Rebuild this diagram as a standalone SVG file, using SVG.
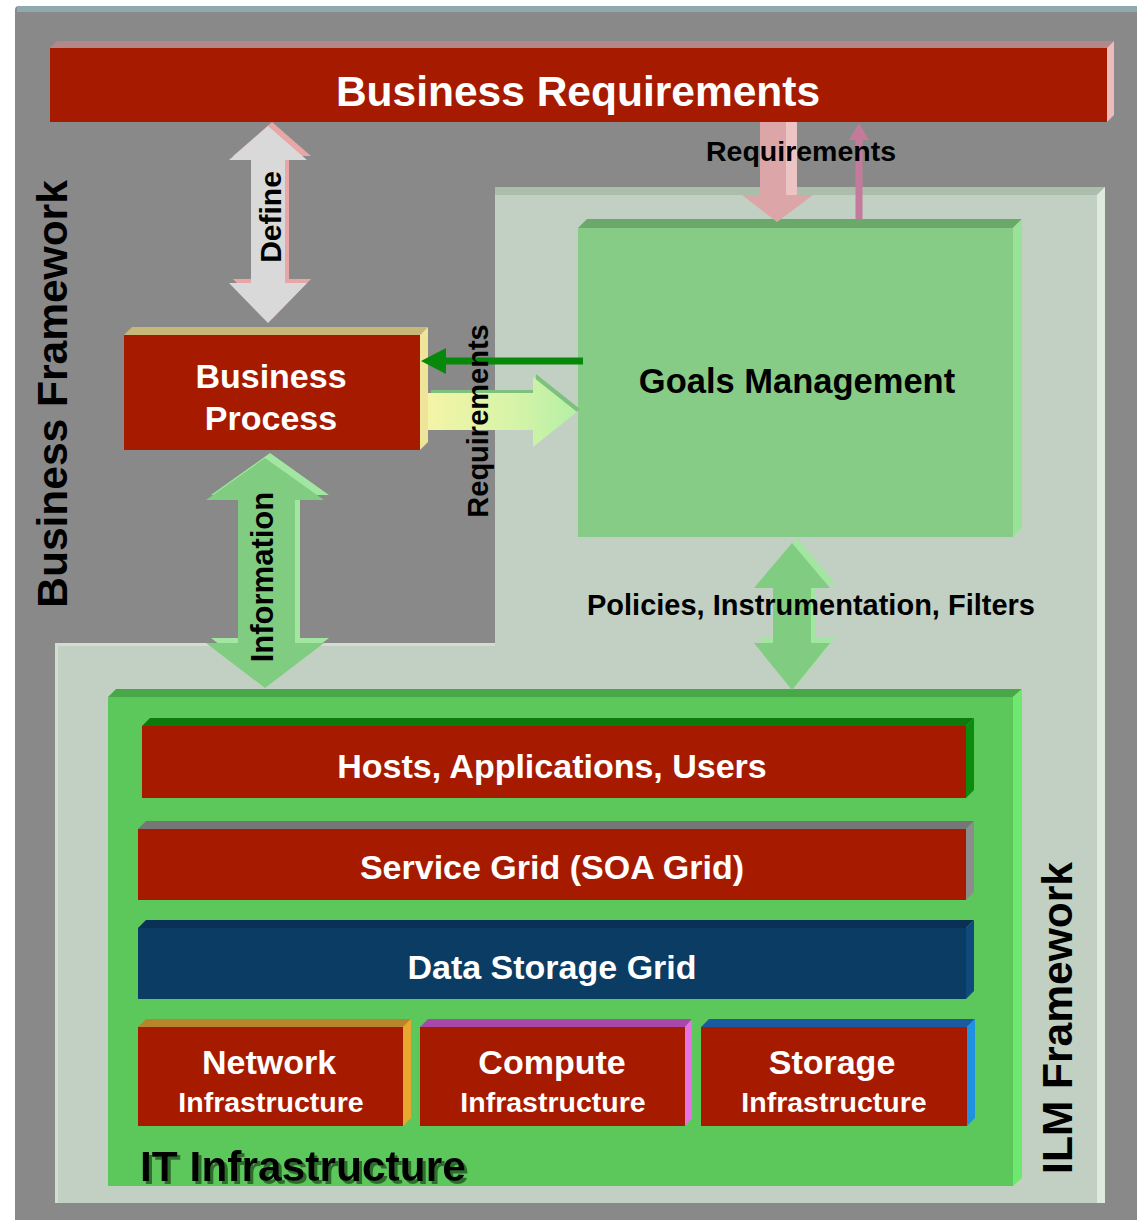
<svg xmlns="http://www.w3.org/2000/svg" width="1137" height="1220" viewBox="0 0 1137 1220">
  <defs>
    <style>
      text { font-family: "Liberation Sans", Arial, sans-serif; font-weight: bold; }
      .wt { fill: #ffffff; text-anchor: middle; }
      .bk { fill: #000000; text-anchor: middle; }
      .red { fill: #a61a00; }
    </style>
    <linearGradient id="reqGrad" x1="0" y1="0" x2="1" y2="0">
      <stop offset="0" stop-color="#f4f4a6"/>
      <stop offset="0.55" stop-color="#d8f4a8"/>
      <stop offset="1" stop-color="#b4f0a6"/>
    </linearGradient>
    <filter id="textShadow" x="-5%" y="-20%" width="110%" height="150%">
      <feDropShadow dx="3" dy="3" stdDeviation="0.6" flood-color="#2f6d2f" flood-opacity="1"/>
    </filter>
  </defs>

  <!-- backdrop -->
  <rect x="0" y="0" width="1137" height="1220" fill="#ffffff"/>
  <rect x="15" y="6" width="1130" height="1220" rx="4" fill="#898989"/>
  <rect x="17" y="6" width="1120" height="6" fill="#8eaaaf"/>

  <!-- ILM framework panel (L-shaped) -->
  <g id="ilm-panel">
    <polygon points="495,187 1105,187 1105,1203 55,1203 55,643 495,643" fill="#c1d0c3"/>
    <polygon points="495,187 1105,187 1097,195 495,195" fill="#abbeab"/>
    <polygon points="1097,195 1105,187 1105,1203 1097,1203" fill="#dfeadf"/>
    <polygon points="55,643 495,643 495,646 58,646 58,1203 55,1203" fill="#d2ddd2"/>
  </g>

  <!-- Business Requirements bar -->
  <g id="business-requirements">
    <polygon points="50,48 57,41 1114,41 1107,48" fill="#b48888"/>
    <polygon points="1107,48 1114,41 1114,115 1107,122" fill="#ecbcbc"/>
    <rect x="50" y="48" width="1057" height="74" class="red"/>
    <text x="578" y="106" class="wt" font-size="42.5">Business Requirements</text>
  </g>

  <!-- Goals Management -->
  <g id="goals-management">
    <polygon points="578,228 587,219 1022,219 1013,228" fill="#6aa96a"/>
    <polygon points="1013,228 1022,219 1022,528 1013,537" fill="#99e399"/>
    <rect x="578" y="228" width="435" height="309" fill="#86cb86"/>
    <text x="797" y="393" class="bk" font-size="34.5">Goals Management</text>
  </g>

  <!-- Business Process -->
  <g id="business-process">
    <polygon points="124,335 132,327 428,327 420,335" fill="#c8b878"/>
    <polygon points="420,335 428,327 428,442 420,450" fill="#efe59a"/>
    <rect x="124" y="335" width="296" height="115" class="red"/>
    <text x="271" y="388" class="wt" font-size="34">Business</text>
    <text x="271" y="430" class="wt" font-size="34">Process</text>
  </g>

  <!-- IT Infrastructure -->
  <g id="it-infrastructure">
    <polygon points="108,697 116,689 1022,689 1013,697" fill="#48a848"/>
    <polygon points="1013,697 1022,689 1022,1178 1013,1186" fill="#6ee86e"/>
    <rect x="108" y="697" width="905" height="489" fill="#5cc85c"/>
    <text x="140" y="1181" font-size="42.5" fill="#000000" filter="url(#textShadow)">IT Infrastructure</text>
  </g>

  <g id="hosts-applications-users">
    <polygon points="142,726 150,718 974,718 966,726" fill="#0d7a0d"/>
    <polygon points="966,726 974,718 974,790 966,798" fill="#0c8c0c"/>
    <rect x="142" y="726" width="824" height="72" class="red"/>
    <text x="552" y="778" class="wt" font-size="34">Hosts, Applications, Users</text>
  </g>

  <g id="service-grid">
    <polygon points="138,829 146,821 974,821 966,829" fill="#767676"/>
    <polygon points="966,829 974,821 974,892 966,900" fill="#8c8c8c"/>
    <rect x="138" y="829" width="828" height="71" class="red"/>
    <text x="552" y="879" class="wt" font-size="34">Service Grid (SOA Grid)</text>
  </g>

  <g id="data-storage-grid">
    <polygon points="138,928 146,920 974,920 966,928" fill="#0a3155"/>
    <polygon points="966,928 974,920 974,991 966,999" fill="#0e4a7c"/>
    <rect x="138" y="928" width="828" height="71" fill="#0b3c64"/>
    <text x="552" y="979" class="wt" font-size="34">Data Storage Grid</text>
  </g>

  <g id="network-infrastructure">
    <polygon points="138,1027 146,1019 411,1019 403,1027" fill="#b8862a"/>
    <polygon points="403,1027 411,1019 411,1118 403,1126" fill="#e8a830"/>
    <rect x="138" y="1027" width="265" height="99" class="red"/>
    <text x="269" y="1074" class="wt" font-size="34">Network</text>
    <text x="271" y="1112" class="wt" font-size="28.5">Infrastructure</text>
  </g>

  <g id="compute-infrastructure">
    <polygon points="420,1027 428,1019 692,1019 685,1027" fill="#a848a8"/>
    <polygon points="685,1027 692,1019 692,1118 685,1126" fill="#e672e6"/>
    <rect x="420" y="1027" width="265" height="99" class="red"/>
    <text x="552" y="1074" class="wt" font-size="34">Compute</text>
    <text x="553" y="1112" class="wt" font-size="28.5">Infrastructure</text>
  </g>

  <g id="storage-infrastructure">
    <polygon points="701,1027 709,1019 975,1019 967,1027" fill="#1a5aa0"/>
    <polygon points="967,1027 975,1019 975,1118 967,1126" fill="#2090e0"/>
    <rect x="701" y="1027" width="266" height="99" class="red"/>
    <text x="832" y="1074" class="wt" font-size="34">Storage</text>
    <text x="834" y="1112" class="wt" font-size="28.5">Infrastructure</text>
  </g>

  <!-- connectors -->
  <g id="connectors">
    <!-- Define: Business Requirements <-> Business Process -->
    <g id="define-arrow">
      <polygon transform="translate(4,-4)" points="268,126 307,160 285,160 285,283 307,283 268,323 229,283 251,283 251,160 229,160" fill="#e8a6a6"/>
      <polygon points="268,126 307,160 285,160 285,283 307,283 268,323 229,283 251,283 251,160 229,160" fill="#d9d9d9"/>
    </g>

    <!-- Information: Business Process <-> IT Infrastructure -->
    <g id="information-arrow">
      <polygon transform="translate(5,-5)" points="265,458 324,500 295,500 295,643 324,643 265,688 206,643 238,643 238,500 206,500" fill="#a2e6a2"/>
      <polygon points="265,458 324,500 295,500 295,643 324,643 265,688 206,643 238,643 238,500 206,500" fill="#80cc80"/>
    </g>

    <!-- Policies: Goals Management <-> IT Infrastructure -->
    <g id="policies-arrow">
      <polygon transform="translate(5,-5)" points="792,543 830,588 811,588 811,643 830,643 792,690 754,643 773,643 773,588 754,588" fill="#a2e6a2"/>
      <polygon points="792,543 830,588 811,588 811,643 830,643 792,690 754,643 773,643 773,588 754,588" fill="#80cc80"/>
    </g>

    <!-- Requirements down into Goals Management -->
    <g id="requirements-down">
      <polygon points="760,122 797,122 797,195 813,195 777,222 742,195 760,195" fill="#dca6a8"/>
      <polygon points="786,122 797,122 797,195 786,195" fill="#ecc4c4"/>
    </g>

    <!-- feedback up into Business Requirements -->
    <g id="feedback-up">
      <line x1="859" y1="219" x2="859" y2="136" stroke="#c47a9a" stroke-width="7"/>
      <polygon points="859,123 849,140 869,140" fill="#c47a9a"/>
    </g>

    <!-- Requirements: Business Process -> Goals Management -->
    <g id="requirements-right">
      <polygon transform="translate(3,-3)" points="428,393 533,393 533,377 577,412 533,447 533,430 428,430" fill="#7fc07f"/>
      <polygon points="428,393 533,393 533,377 577,412 533,447 533,430 428,430" fill="url(#reqGrad)"/>
    </g>

    <!-- Goals Management -> Business Process -->
    <g id="goals-to-process">
      <line x1="583" y1="361" x2="442" y2="361" stroke="#08880a" stroke-width="7"/>
      <polygon points="421,361 446,348 446,374" fill="#08880a"/>
    </g>
  </g>

  <!-- connector and frame labels -->
  <g id="labels">
    <text x="801" y="161" class="bk" font-size="28.5">Requirements</text>
    <text transform="translate(281,217) rotate(-90)" class="bk" font-size="30">Define</text>
    <text transform="translate(488,421) rotate(-90)" class="bk" font-size="29">Requirements</text>
    <text transform="translate(273,577) rotate(-90)" class="bk" font-size="31">Information</text>
    <text x="811" y="615" class="bk" font-size="29">Policies, Instrumentation, Filters</text>
    <text transform="translate(67,394) rotate(-90)" class="bk" font-size="42.5">Business Framework</text>
    <text transform="translate(1072,1018) rotate(-90)" class="bk" font-size="42.5">ILM Framework</text>
  </g>
</svg>
